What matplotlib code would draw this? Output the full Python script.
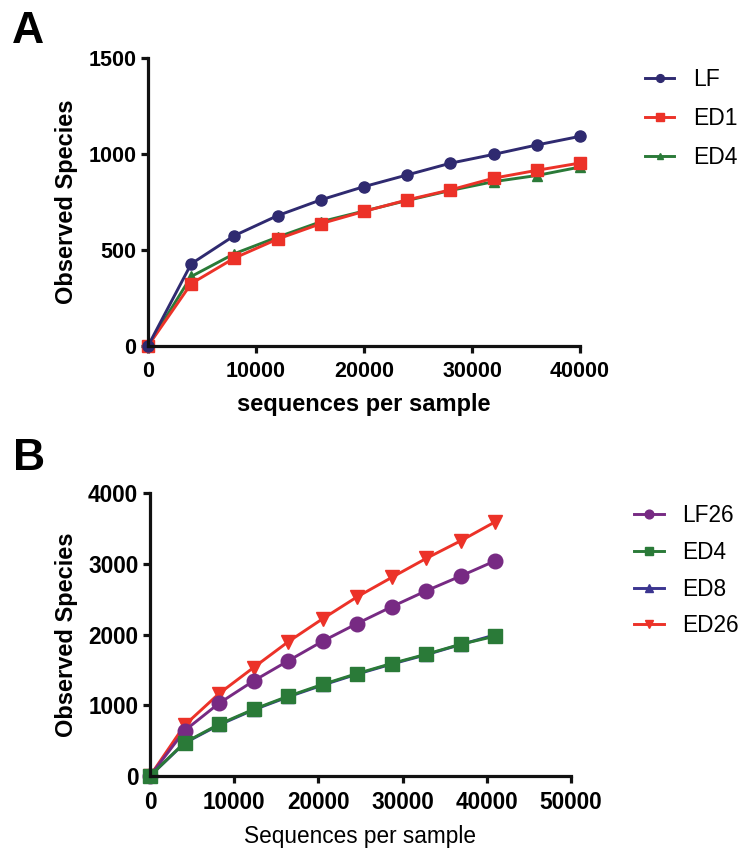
import matplotlib
matplotlib.use('Agg')
import matplotlib.pyplot as plt

plt.rcParams['font.family'] = ['Liberation Sans', 'DejaVu Sans']

# panel A data
seqs_a = [0, 4000, 8000, 12000, 16000, 20000, 24000, 28000, 32000, 36000, 40000]
lf = [0, 428, 575, 679, 761, 830, 891, 952, 998, 1047, 1092]
ed1 = [0, 325, 458, 557, 637, 701, 761, 813, 874, 915, 953]
ed4_a = [0, 362, 481, 567, 647, 703, 758, 810, 856, 888, 932]

# panel B data
seqs_b = [0, 4100, 8200, 12300, 16400, 20500, 24600, 28700, 32800, 36900, 41000]
lf26 = [0, 640, 1028, 1344, 1627, 1905, 2155, 2392, 2617, 2826, 3041]
ed4_b = [0, 472, 731, 943, 1127, 1295, 1448, 1590, 1721, 1862, 1976]
ed8 = [0, 465, 722, 935, 1118, 1285, 1440, 1582, 1714, 1858, 1995]
ed26 = [0, 717, 1165, 1533, 1896, 2222, 2532, 2806, 3075, 3324, 3593]

navy = '#2f2a70'
red = '#ec3228'
green = '#2a7a38'
purple = '#772a83'
blue = '#3b3590'

fig = plt.figure(figsize=(7.42, 8.5), dpi=100)

def style(ax, fs):
    for s in ['top', 'right']:
        ax.spines[s].set_visible(False)
    for s in ['left', 'bottom']:
        ax.spines[s].set_linewidth(2.3)
        ax.spines[s].set_color('#111111')
    ax.tick_params(direction='out', length=5, width=2.3, color='#111111',
                   labelsize=fs)
    ax.tick_params(axis='x', pad=6)
    ax.tick_params(axis='y', pad=3.5)
    for lab in ax.get_xticklabels() + ax.get_yticklabels():
        lab.set_fontweight('bold')

# ---- A ----
axa = fig.add_axes([148/742, 1 - 346/850, 432/742, 288/850])
axa.plot(seqs_a, ed4_a, color=green, lw=2.1, marker='^', ms=7, clip_on=False, label='ED4')
axa.plot(seqs_a, ed1, color=red, lw=2.1, marker='s', ms=8, clip_on=False, label='ED1')
axa.plot(seqs_a, lf, color=navy, lw=2.1, marker='o', ms=8, clip_on=False, label='LF')
axa.set_xlim(0, 40000)
axa.set_ylim(0, 1500)
axa.set_xticks(range(0, 40001, 10000))
axa.set_yticks([0, 500, 1000, 1500])
style(axa, 15.5)
axa.set_xlabel('sequences per sample', fontsize=17, fontweight='bold', labelpad=8)
axa.set_ylabel('Observed Species', fontsize=17, fontweight='bold', labelpad=7.5)
h, l = axa.get_legend_handles_labels()
axa.legend([h[2], h[1], h[0]], [l[2], l[1], l[0]], loc='upper left',
           bbox_to_anchor=(624/742, 1 - 47/850), bbox_transform=fig.transFigure,
           frameon=False, fontsize=16.5, handlelength=1.3, markerscale=0.7,
           labelspacing=0.7, handletextpad=0.8)
fig.text(12/742, 1 - 43/850, 'A', fontsize=32, fontweight='bold')

# ---- B ----
axb = fig.add_axes([150/742, 1 - 776/850, 421/742, 283/850])
axb.plot(seqs_b, ed26, color=red, lw=2.1, marker='v', ms=10.5, clip_on=False, label='ED26')
axb.plot(seqs_b, lf26, color=purple, lw=2.1, marker='o', ms=10.5, clip_on=False, label='LF26')
axb.plot(seqs_b, ed8, color=blue, lw=2.1, marker='^', ms=9, clip_on=False, label='ED8')
axb.plot(seqs_b, ed4_b, color=green, lw=2.1, marker='s', ms=10, clip_on=False, label='ED4')
axb.set_xlim(0, 50000)
axb.set_ylim(0, 4000)
axb.set_xticks(range(0, 50001, 10000))
axb.set_yticks(range(0, 4001, 1000))
style(axb, 16.3)
axb.set_xlabel('Sequences per sample', fontsize=16.3, labelpad=8)
axb.set_ylabel('Observed Species', fontsize=17, fontweight='bold', labelpad=7)
h, l = axb.get_legend_handles_labels()
order = [1, 3, 2, 0]
axb.legend([h[i] for i in order], [l[i] for i in order], loc='upper left',
           bbox_to_anchor=(614/742, 1 - 484/850), bbox_transform=fig.transFigure,
           frameon=False, fontsize=16.3, handlelength=1.3, markerscale=0.6,
           labelspacing=0.6, handletextpad=0.8)
fig.text(13/742, 1 - 470/850, 'B', fontsize=32, fontweight='bold')

fig.savefig('out.png', dpi=100)
